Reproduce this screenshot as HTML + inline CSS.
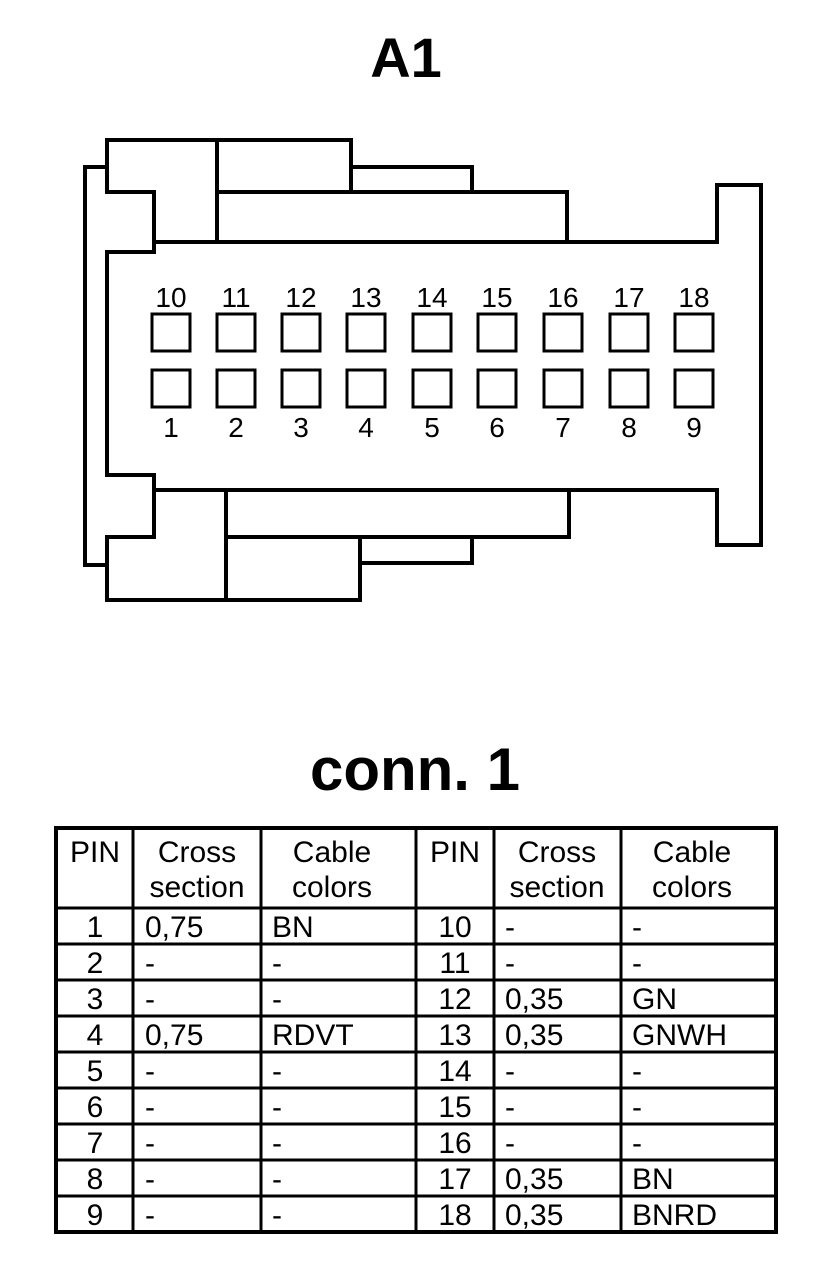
<!DOCTYPE html>
<html><head><meta charset="utf-8"><style>
html,body{margin:0;padding:0;background:#fff;}
svg{display:block;}
text{font-family:"Liberation Sans",Arial,sans-serif;fill:#000;}
</style></head><body>
<svg width="816" height="1262" viewBox="0 0 816 1262" xmlns="http://www.w3.org/2000/svg">
<rect width="816" height="1262" fill="#fff"/>
<text x="406" y="77" font-size="56" font-weight="bold" text-anchor="middle">A1</text>
<g fill="none" stroke="#000" stroke-width="4" stroke-linejoin="miter">
<path d="M107,167 H85 V565 H107"/>
<path d="M107,140 H351 V167 H472 V192 H567 V242 H717 V185 H761 V545 H717 V490 H569 V537 H472 V563 H360 V600 H107 V537 H154 V475 H107 V252 H154 V192 H107 Z"/>
<path d="M154,242 H717"/>
<path d="M154,490 H717"/>
<path d="M217,140 V242"/>
<path d="M217,192 H567"/>
<path d="M351,167 V192"/>
<path d="M226,490 V600"/>
<path d="M226,537 H569"/>
<path d="M360,537 V563"/>
</g>
<g fill="none" stroke="#000" stroke-width="3">
<rect x="152" y="314" width="38" height="37"/><rect x="217" y="314" width="38" height="37"/><rect x="282" y="314" width="38" height="37"/><rect x="347" y="314" width="38" height="37"/><rect x="413" y="314" width="38" height="37"/><rect x="478" y="314" width="38" height="37"/><rect x="544" y="314" width="38" height="37"/><rect x="610" y="314" width="38" height="37"/><rect x="675" y="314" width="38" height="37"/>
<rect x="152" y="370" width="38" height="37"/><rect x="217" y="370" width="38" height="37"/><rect x="282" y="370" width="38" height="37"/><rect x="347" y="370" width="38" height="37"/><rect x="413" y="370" width="38" height="37"/><rect x="478" y="370" width="38" height="37"/><rect x="544" y="370" width="38" height="37"/><rect x="610" y="370" width="38" height="37"/><rect x="675" y="370" width="38" height="37"/>
</g>
<g font-size="28" text-anchor="middle">
<text x="171" y="307">10</text><text x="236" y="307">11</text><text x="301" y="307">12</text><text x="366" y="307">13</text><text x="432" y="307">14</text><text x="497" y="307">15</text><text x="563" y="307">16</text><text x="629" y="307">17</text><text x="694" y="307">18</text>
<text x="171" y="437">1</text><text x="236" y="437">2</text><text x="301" y="437">3</text><text x="366" y="437">4</text><text x="432" y="437">5</text><text x="497" y="437">6</text><text x="563" y="437">7</text><text x="629" y="437">8</text><text x="694" y="437">9</text>
</g>
<text x="415" y="790" font-size="60" font-weight="bold" text-anchor="middle">conn. 1</text>
<g fill="none" stroke="#000">
<rect x="56" y="828" width="720" height="404" stroke-width="4"/>
<path stroke-width="3" d="M133,828V1232M261,828V1232M416,828V1232M494,828V1232M621,828V1232"/>
<path stroke-width="3" d="M56,908H776M56,944H776M56,980H776M56,1016H776M56,1052H776M56,1088H776M56,1124H776M56,1160H776M56,1196H776"/>
</g>
<g font-size="30" text-anchor="middle">
<text x="95" y="862">PIN</text><text x="197" y="862">Cross</text><text x="197" y="897">section</text><text x="332" y="862">Cable</text><text x="332" y="897">colors</text>
<text x="455" y="862">PIN</text><text x="557" y="862">Cross</text><text x="557" y="897">section</text><text x="692" y="862">Cable</text><text x="692" y="897">colors</text>
<text x="95" y="937">1</text><text x="95" y="973">2</text><text x="95" y="1009">3</text><text x="95" y="1045">4</text><text x="95" y="1081">5</text><text x="95" y="1117">6</text><text x="95" y="1153">7</text><text x="95" y="1189">8</text><text x="95" y="1225">9</text>
<text x="455" y="937">10</text><text x="455" y="973">11</text><text x="455" y="1009">12</text><text x="455" y="1045">13</text><text x="455" y="1081">14</text><text x="455" y="1117">15</text><text x="455" y="1153">16</text><text x="455" y="1189">17</text><text x="455" y="1225">18</text>
</g>
<g font-size="30">
<text x="145" y="937">0,75</text><text x="272" y="937">BN</text>
<text x="145" y="973">-</text><text x="272" y="973">-</text>
<text x="145" y="1009">-</text><text x="272" y="1009">-</text>
<text x="145" y="1045">0,75</text><text x="272" y="1045">RDVT</text>
<text x="145" y="1081">-</text><text x="272" y="1081">-</text>
<text x="145" y="1117">-</text><text x="272" y="1117">-</text>
<text x="145" y="1153">-</text><text x="272" y="1153">-</text>
<text x="145" y="1189">-</text><text x="272" y="1189">-</text>
<text x="145" y="1225">-</text><text x="272" y="1225">-</text>
<text x="505" y="937">-</text><text x="632" y="937">-</text>
<text x="505" y="973">-</text><text x="632" y="973">-</text>
<text x="505" y="1009">0,35</text><text x="632" y="1009">GN</text>
<text x="505" y="1045">0,35</text><text x="632" y="1045">GNWH</text>
<text x="505" y="1081">-</text><text x="632" y="1081">-</text>
<text x="505" y="1117">-</text><text x="632" y="1117">-</text>
<text x="505" y="1153">-</text><text x="632" y="1153">-</text>
<text x="505" y="1189">0,35</text><text x="632" y="1189">BN</text>
<text x="505" y="1225">0,35</text><text x="632" y="1225">BNRD</text>
</g>
</svg>
</body></html>
